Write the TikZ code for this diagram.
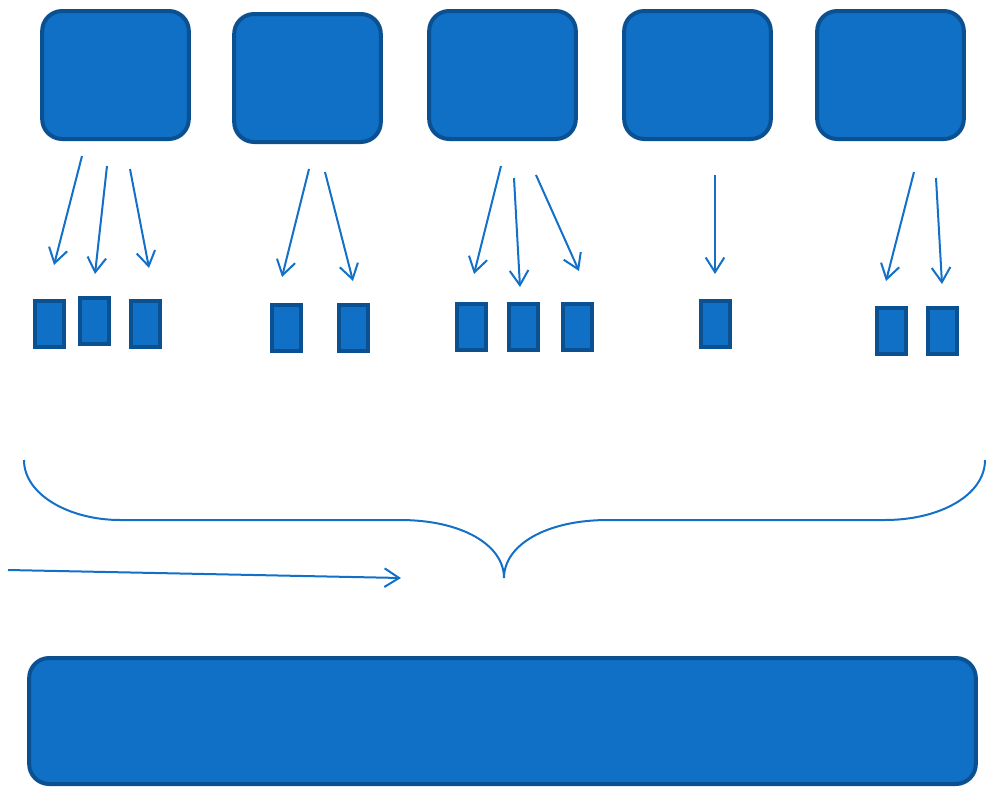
\documentclass[tikz,border=0pt]{standalone}
\usepackage{tikz}
\usetikzlibrary{arrows.meta}
\definecolor{boxblue}{RGB}{16,112,197}
\definecolor{edgeblue}{RGB}{11,80,145}
\definecolor{lineblue}{RGB}{18,112,200}

\begin{document}
\begin{tikzpicture}[x=0.75pt, y=-0.75pt,
    bigbox/.style={fill=boxblue, draw=edgeblue, line width=3pt, rounded corners=15pt, minimum width=110pt, minimum height=96pt, inner sep=0},
    smallbox/.style={fill=boxblue, draw=edgeblue, line width=3pt, minimum width=22pt, minimum height=34.5pt, inner sep=0},
    arr/.style={draw=lineblue, line width=1.5pt, -{Straight Barb[length=11pt, width=14pt, line width=1.5pt]}}]
            \useasboundingbox (0,0) rectangle (986,786);
            % top boxes
            \node[bigbox] (b1) at (115.5,75) {};
            \node[bigbox] (b2) at (307.5,78) {};
            \node[bigbox] (b3) at (502.5,75) {};
            \node[bigbox] (b4) at (697.5,75) {};
            \node[bigbox] (b5) at (890.5,75) {};
            % small boxes
            \node[smallbox] (s11) at (49.5,324) {};
            \node[smallbox] (s12) at (94.5,321) {};
            \node[smallbox] (s13) at (145.5,324) {};
            \node[smallbox] (s21) at (286.5,328) {};
            \node[smallbox] (s22) at (353.5,328) {};
            \node[smallbox] (s31) at (471.5,327) {};
            \node[smallbox] (s32) at (523.5,327) {};
            \node[smallbox] (s33) at (577.5,327) {};
            \node[smallbox] (s41) at (715.5,324) {};
            \node[smallbox] (s51) at (891.5,331) {};
            \node[smallbox] (s52) at (942.5,331) {};
            % bottom box
            \node[bigbox, minimum width=710pt, minimum height=94.5pt] (base) at (502.5,721) {};
            % arrow ends
            \coordinate (a11) at (82,156);  \coordinate (e11) at (54,265);
            \coordinate (a12) at (107,166); \coordinate (e12) at (95,274);
            \coordinate (a13) at (130,169); \coordinate (e13) at (149,268);
            \coordinate (a21) at (309,169); \coordinate (e21) at (282,277);
            \coordinate (a22) at (325,172); \coordinate (e22) at (353,281);
            \coordinate (a31) at (501,166); \coordinate (e31) at (474,274);
            \coordinate (a32) at (514,178); \coordinate (e32) at (520,287);
            \coordinate (a33) at (536,175); \coordinate (e33) at (579,271);
            \coordinate (a41) at (715,175); \coordinate (e41) at (715,274);
            \coordinate (a51) at (914,172); \coordinate (e51) at (886,281);
            \coordinate (a52) at (936,178); \coordinate (e52) at (942,284);
            \foreach \i in {11,12,13,21,22,31,32,33,41,51,52}
                \draw[arr] (a\i) -- (e\i);
            % brace
            \coordinate (tip) at (504,578);
            \draw[lineblue, line width=1.5pt] (24,460) .. controls (24,495) and (70,520) .. (120,520) -- (400,520)
                .. controls (462,520) and (504,545) .. (tip)
                .. controls (504,545) and (546,520) .. (608,520) -- (885,520)
                .. controls (940,520) and (985,495) .. (985,460);
            \coordinate (in) at (8,570);
            \coordinate (out) at (401,578);
            \draw[arr] (in) -- (out);
        \end{tikzpicture}
\end{document}
